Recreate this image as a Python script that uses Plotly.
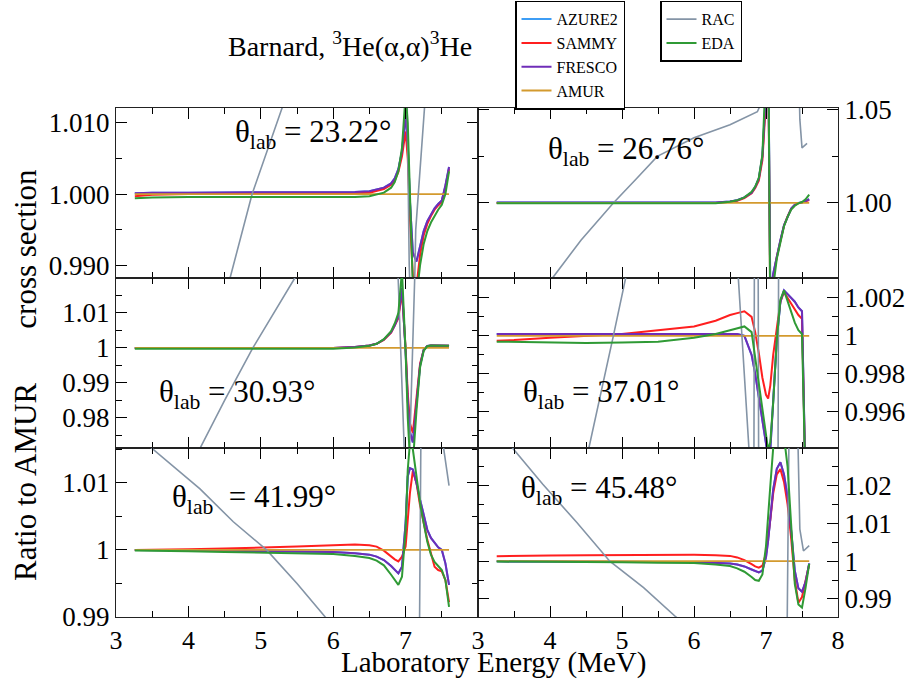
import plotly.graph_objects as go

# ---------------- data ----------------
ENERGY = [3.26, 3.5, 4.0, 4.5, 5.0, 5.5, 6.0, 6.3, 6.5, 6.6, 6.7, 6.8, 6.85, 6.9, 6.95,
          7.0, 7.03, 7.06, 7.1, 7.15, 7.2, 7.25, 7.3, 7.35, 7.4, 7.45, 7.5, 7.55, 7.6]

AMUR_RATIO = [1.0, 1.0, 1.0, 1.0, 1.0, 1.0, 1.0, 1.0, 1.0, 1.0, 1.0, 1.0, 1.0, 1.0, 1.0,
              1.0, 1.0, 1.0, 1.0, 1.0, 1.0, 1.0, 1.0, 1.0, 1.0, 1.0, 1.0, 1.0, 1.0]

ANGLES = ["23.22", "26.76", "30.93", "37.01", "41.99", "45.48"]

# theta = 23.22
P1_SAMMY = [0.9997, 0.9999, 1.0000, 1.0000, 1.0000, 1.0000, 1.0000, 1.0001, 1.0002, 1.0004, 1.0007, 1.0013, 1.0019, 1.0031, 1.0053,
            1.0088, 1.0050, 0.9965, 0.9885, 0.9870, 0.9915, 0.9942, 0.9958, 0.9969, 0.9978, 0.9984, 0.9989, 1.0010, 1.0035]
P1_FRESCO = [1.0001, 1.0002, 1.0002, 1.0002, 1.0002, 1.0002, 1.0002, 1.0003, 1.0004, 1.0006, 1.0009, 1.0015, 1.0022, 1.0035, 1.0060,
             1.0111, 1.0070, 0.9990, 0.9918, 0.9905, 0.9928, 0.9948, 0.9962, 0.9972, 0.9980, 0.9986, 0.9991, 1.0012, 1.0038]
P1_EDA = [0.9994, 0.9995, 0.9996, 0.9996, 0.9995, 0.9995, 0.9995, 0.9996, 0.9997, 0.9999, 1.0002, 1.0009, 1.0017, 1.0032, 1.0065,
          1.0140, 1.0100, 1.0000, 0.9870, 0.9855, 0.9900, 0.9930, 0.9948, 0.9960, 0.9970, 0.9978, 0.9985, 1.0000, 1.0032]
P1_RAC_E = [3.26, 4.0, 4.57, 4.88, 5.29, 5.8, 6.5, 7.0, 7.05, 7.08, 7.11, 7.14, 7.6]
P1_RAC = [0.945, 0.972, 0.988, 1.000, 1.012, 1.025, 1.040, 1.030, 0.990, 0.980, 0.980, 0.995, 1.060]

# theta = 26.76
P2_SAMMY = [1.0000, 1.0000, 1.0000, 1.0000, 1.0000, 1.0000, 1.0000, 1.0000, 1.0006, 1.0012, 1.0026, 1.0052, 1.0080, 1.0120, 1.0230,
            1.0550, 1.0850, 0.9400, 0.9600, 0.9710, 0.9795, 0.9878, 0.9928, 0.9968, 0.9989, 0.9999, 1.0002, 1.0008, 1.0015]
P2_FRESCO = [1.0002, 1.0002, 1.0002, 1.0002, 1.0002, 1.0002, 1.0002, 1.0002, 1.0008, 1.0015, 1.0030, 1.0055, 1.0085, 1.0130, 1.0250,
             1.0600, 1.0900, 0.9500, 0.9620, 0.9720, 0.9800, 0.9880, 0.9930, 0.9970, 0.9990, 1.0000, 1.0002, 1.0010, 1.0020]
P2_EDA = [0.9999, 0.9999, 0.9999, 0.9999, 0.9999, 0.9999, 0.9999, 0.9999, 1.0007, 1.0014, 1.0030, 1.0060, 1.0088, 1.0135, 1.0260,
          1.0700, 1.1000, 0.9300, 0.9550, 0.9700, 0.9795, 0.9875, 0.9925, 0.9965, 0.9985, 0.9998, 1.0005, 1.0020, 1.0045]
P2_RAC_E = [3.26, 4.04, 4.43, 4.88, 5.2, 5.49, 6.0, 6.5, 6.88, 6.95, 7.0, 7.44, 7.47, 7.5, 7.57]
P2_RAC = [0.900, 0.960, 0.980, 1.000, 1.013, 1.025, 1.035, 1.042, 1.049, 1.055, 1.100, 1.100, 1.045, 1.0296, 1.032]

# theta = 30.93
P3_SAMMY = [1.0000, 1.0000, 1.0000, 1.0000, 1.0000, 1.0000, 1.0000, 1.0003, 1.0007, 1.0012, 1.0023, 1.0044, 1.0063, 1.0085, 1.0160,
            1.0000, 0.9870, 0.9785, 0.9757, 0.9855, 0.9955, 0.9994, 1.0005, 1.0007, 1.0007, 1.0007, 1.0007, 1.0006, 1.0006]
P3_FRESCO = [1.0000, 1.0000, 1.0000, 1.0000, 1.0000, 1.0000, 1.0000, 1.0003, 1.0007, 1.0012, 1.0024, 1.0045, 1.0065, 1.0090, 1.0172,
             0.9990, 0.9850, 0.9760, 0.9730, 0.9840, 0.9950, 0.9995, 1.0006, 1.0007, 1.0007, 1.0007, 1.0007, 1.0006, 1.0006]
P3_EDA = [0.9998, 0.9998, 0.9998, 0.9998, 0.9998, 0.9998, 0.9998, 1.0001, 1.0006, 1.0012, 1.0025, 1.0048, 1.0070, 1.0100, 1.0220,
          0.9990, 0.9800, 0.9680, 0.9670, 0.9820, 0.9945, 0.9992, 1.0005, 1.0007, 1.0007, 1.0007, 1.0007, 1.0006, 1.0006]
P3_RAC_E = [3.26, 4.16, 4.5, 4.89, 5.2, 5.47, 6.0, 6.88, 7.0, 7.04, 7.14, 7.6]
P3_RAC = [0.935, 0.9714, 0.985, 1.000, 1.0105, 1.020, 1.035, 1.030, 0.960, 0.960, 1.030, 1.050]

# theta = 37.01
P4_SAMMY = [0.99975, 0.99978, 0.9999, 1.0000, 1.0001, 1.0003, 1.0005, 1.0008, 1.0011, 1.0012, 1.0013, 1.0010, 1.0002, 0.9991, 0.9978,
            0.9969, 0.9967, 0.9974, 0.9990, 1.0004, 1.0018, 1.0023, 1.0020, 1.0017, 1.0014, 1.0011, 1.0009, 0.9920, 0.9900]
P4_FRESCO = [1.0001, 1.0001, 1.0001, 1.0001, 1.0001, 1.0001, 1.0001, 1.0001, 1.0001, 1.0001, 1.0000, 0.9990, 0.9980, 0.9968, 0.9957,
             0.9946, 0.9936, 0.9940, 0.9965, 0.9998, 1.0018, 1.0024, 1.0022, 1.0020, 1.0018, 1.0015, 1.0013, 0.9920, 0.9900]
P4_EDA = [0.9997, 0.99968, 0.99965, 0.99963, 0.99965, 0.9997, 0.9999, 1.0001, 1.0003, 1.0004, 1.0005, 1.0002, 0.9988, 0.9975, 0.9960,
          0.9946, 0.9940, 0.9944, 0.9965, 0.9998, 1.0019, 1.0024, 1.0018, 1.0012, 1.0007, 1.0003, 1.0001, 0.9920, 0.9900]
P4_RAC_E = [3.26, 4.54, 4.88, 5.02, 5.5, 6.0, 6.6, 6.8, 6.83, 6.84, 6.89, 6.9, 7.0, 7.16, 7.18, 7.6]
P4_RAC = [0.970, 0.9941, 1.000, 1.003, 1.012, 1.020, 1.004, 0.992, 0.990, 1.006, 1.006, 0.990, 0.980, 0.985, 1.010, 1.050]

# theta = 41.99
P5_SAMMY = [1.0000, 1.0000, 1.0001, 1.0002, 1.0003, 1.0005, 1.0007, 1.0008, 1.0007, 1.0005, 0.9999, 0.9990, 0.9986, 0.9983, 0.9990,
            1.0005, 1.0040, 1.0085, 1.0118, 1.0100, 1.0066, 1.0040, 1.0015, 0.9995, 0.9975, 0.9970, 0.9968, 0.9955, 0.9922]
P5_FRESCO = [1.0000, 1.0000, 0.9999, 0.9999, 0.9998, 0.9998, 0.9997, 0.9995, 0.9993, 0.9990, 0.9985, 0.9976, 0.9970, 0.9965, 0.9975,
             1.0040, 1.0110, 1.0122, 1.0120, 1.0100, 1.0075, 1.0052, 1.0030, 1.0018, 1.0010, 1.0004, 1.0000, 0.9980, 0.9948]
P5_EDA = [0.9999, 0.9999, 0.9998, 0.9997, 0.9996, 0.9995, 0.9994, 0.9991, 0.9988, 0.9984, 0.9977, 0.9963, 0.9955, 0.9948, 0.9960,
          1.0030, 1.0120, 1.0160, 1.0150, 1.0110, 1.0070, 1.0040, 1.0012, 0.9993, 0.9982, 0.9976, 0.9970, 0.9955, 0.9915]
P5_RAC_E = [3.26, 3.49, 4.16, 4.62, 5.08, 5.5, 5.89, 6.3, 7.18, 7.22, 7.46, 7.6]
P5_RAC = [1.018, 1.0152, 1.0091, 1.0042, 1.000, 0.995, 0.990, 0.985, 0.970, 1.030, 1.020, 1.0096]

# theta = 45.48
P6_SAMMY = [1.0013, 1.0014, 1.0015, 1.0016, 1.0017, 1.0017, 1.0017, 1.0016, 1.0014, 1.0010, 1.0003, 0.9992, 0.9986, 0.9983, 0.9988,
            1.0020, 1.0060, 1.0110, 1.0180, 1.0230, 1.0244, 1.0210, 1.0150, 1.0060, 0.9950, 0.9890, 0.9905, 0.9950, 0.9992]
P6_FRESCO = [1.0000, 0.9999, 0.9999, 0.9998, 0.9998, 0.9998, 0.9998, 0.9996, 0.9994, 0.9991, 0.9986, 0.9978, 0.9973, 0.9970, 0.9975,
             1.0010, 1.0055, 1.0110, 1.0190, 1.0245, 1.0262, 1.0230, 1.0170, 1.0080, 0.9975, 0.9928, 0.9919, 0.9945, 0.9994]
P6_EDA = [0.9999, 0.9999, 0.9998, 0.9998, 0.9997, 0.9996, 0.9995, 0.9991, 0.9987, 0.9981, 0.9972, 0.9958, 0.9950, 0.9948, 0.9965,
          1.0040, 1.0110, 1.0200, 1.0300, 1.0350, 1.0360, 1.0330, 1.0250, 1.0080, 0.9940, 0.9885, 0.9877, 0.9930, 0.9993]
P6_RAC_E = [3.26, 3.48, 3.9, 4.37, 4.83, 5.3, 5.75, 6.1, 7.29, 7.32, 7.44, 7.47, 7.52, 7.6]
P6_RAC = [1.035, 1.030, 1.0204, 1.0103, 1.000, 0.993, 0.9852, 0.980, 0.975, 1.035, 1.035, 1.0085, 1.0027, 1.0041]

# AZURE2 coincides with FRESCO in every panel
P1_AZURE2 = list(P1_FRESCO)
P2_AZURE2 = list(P2_FRESCO)
P3_AZURE2 = list(P3_FRESCO)
P4_AZURE2 = list(P4_FRESCO)
P5_AZURE2 = list(P5_FRESCO)
P6_AZURE2 = list(P6_FRESCO)

PANELS = [
    (P1_AZURE2, P1_SAMMY, P1_FRESCO, P1_EDA, P1_RAC_E, P1_RAC),
    (P2_AZURE2, P2_SAMMY, P2_FRESCO, P2_EDA, P2_RAC_E, P2_RAC),
    (P3_AZURE2, P3_SAMMY, P3_FRESCO, P3_EDA, P3_RAC_E, P3_RAC),
    (P4_AZURE2, P4_SAMMY, P4_FRESCO, P4_EDA, P4_RAC_E, P4_RAC),
    (P5_AZURE2, P5_SAMMY, P5_FRESCO, P5_EDA, P5_RAC_E, P5_RAC),
    (P6_AZURE2, P6_SAMMY, P6_FRESCO, P6_EDA, P6_RAC_E, P6_RAC),
]

# axis settings per panel
Y_RANGES = [(0.9882, 1.0121), (0.9597, 1.051), (0.9714, 1.0200),
            (0.9941, 1.00305), (0.9900, 1.0152), (0.9852, 1.0300)]
Y_TICKVALS = [[0.99, 1.0, 1.01], [1.0, 1.05], [0.98, 0.99, 1.0, 1.01],
              [0.996, 0.998, 1.0, 1.002], [0.99, 1.0, 1.01], [0.99, 1.0, 1.01, 1.02]]
Y_TICKTEXT = [["0.990", "1.000", "1.010"], ["1.00", "1.05"], ["0.98", "0.99", "1", "1.01"],
              ["0.996", "0.998", "1", "1.002"], ["0.99", "1", "1.01"], ["0.99", "1", "1.01", "1.02"]]
Y_MINOR = [0.005, 0.025, 0.005, 0.001, 0.005, 0.005]

# ---------------- styles ----------------
C_AZURE = "#3d9df5"
C_SAMMY = "#ff1f1f"
C_FRESCO = "#6f2db8"
C_AMUR = "#d39a2e"
C_RAC = "#8494a6"
C_EDA = "#2f9a35"
FONT = "'Liberation Serif', 'Times New Roman', 'DejaVu Serif', serif"

W, H = 919, 686
X_DOM = [(116 / W, 478 / W), (478 / W, 838 / W)]
Y_DOM = [(1 - 278 / H, 1 - 108 / H), (1 - 448 / H, 1 - 278 / H), (1 - 617 / H, 1 - 448 / H)]

fig = go.Figure()
layout = {}
for i, (az, sa, fr, ed, rac_e, rac) in enumerate(PANELS):
    n = i + 1
    xa = "x" if n == 1 else f"x{n}"
    ya = "y" if n == 1 else f"y{n}"
    first = (n == 1)
    series = [
        ("AZURE2", ENERGY, az, C_AZURE, 2.0, "legend"),
        ("SAMMY", ENERGY, sa, C_SAMMY, 2.0, "legend"),
        ("FRESCO", ENERGY, fr, C_FRESCO, 2.0, "legend"),
        ("AMUR", ENERGY, AMUR_RATIO, C_AMUR, 1.8, "legend"),
        ("RAC", rac_e, rac, C_RAC, 1.6, "legend2"),
        ("EDA", ENERGY, ed, C_EDA, 2.0, "legend2"),
    ]
    for name, xs, ys, col, lw, leg in series:
        fig.add_trace(go.Scatter(x=xs, y=ys, mode="lines", name=name,
                                 line=dict(color=col, width=lw),
                                 xaxis=xa, yaxis=ya, showlegend=first, legend=leg))
    r, c = i // 2, i % 2
    xkey = "xaxis" if n == 1 else f"xaxis{n}"
    ykey = "yaxis" if n == 1 else f"yaxis{n}"
    xticks = [3, 4, 5, 6, 7] if c == 0 else [3, 4, 5, 6, 7, 8]
    layout[xkey] = dict(
        domain=list(X_DOM[c]), anchor=ya, range=[3, 8],
        tickmode="array", tickvals=xticks, ticktext=[str(v) for v in xticks],
        showticklabels=(r == 2), ticks="inside", ticklen=11, tickwidth=1.4,
        tickcolor="black", showline=True, linecolor="#222222", linewidth=1.4,
        mirror="allticks", showgrid=False, zeroline=False, automargin=False,
        tickfont=dict(family=FONT, size=26, color="black"),
        minor=dict(ticks="inside", ticklen=6, tickwidth=1.4, tickcolor="black",
                   tickmode="linear", tick0=3, dtick=0.5),
    )
    layout[ykey] = dict(
        domain=list(Y_DOM[r]), anchor=xa, range=list(Y_RANGES[i]),
        side="left" if c == 0 else "right",
        tickmode="array", tickvals=Y_TICKVALS[i], ticktext=Y_TICKTEXT[i],
        ticks="inside", ticklen=11, tickwidth=1.4, tickcolor="black",
        showline=True, linecolor="#222222", linewidth=1.4, mirror="allticks",
        showgrid=False, zeroline=False, automargin=False,
        tickfont=dict(family=FONT, size=27, color="black"),
        minor=dict(ticks="inside", ticklen=6, tickwidth=1.4, tickcolor="black",
                   tickmode="linear", tick0=1.0, dtick=Y_MINOR[i]),
    )

# angle labels (position in each panel's domain fraction)
LABEL_POS = [(0.323, 0.845), (0.188, 0.745), (0.113, 0.315), (0.119, 0.315), (0.149, 0.70), (0.114, 0.75)]
annotations = []
for i, ang in enumerate(ANGLES):
    n = i + 1
    xa = "x" if n == 1 else f"x{n}"
    ya = "y" if n == 1 else f"y{n}"
    gap = "\u00a0\u00a0" if i == 4 else " "
    annotations.append(dict(
        text=f"θ<sub>lab</sub>{gap}= {ang}°", xref=f"{xa} domain", yref=f"{ya} domain",
        x=LABEL_POS[i][0], y=LABEL_POS[i][1], xanchor="left", yanchor="middle",
        showarrow=False, font=dict(family=FONT, size=31, color="black")))

annotations.append(dict(text="Barnard, <sup>3</sup>He(α,α)<sup>3</sup>He",
                        xref="paper", yref="paper", x=350 / W, y=1 - 45 / H,
                        xanchor="center", yanchor="middle", showarrow=False,
                        font=dict(family=FONT, size=28, color="black")))
annotations.append(dict(text="Laboratory Energy (MeV)", xref="paper", yref="paper",
                        x=493 / W, y=1 - 662 / H, xanchor="center", yanchor="middle",
                        showarrow=False, font=dict(family=FONT, size=29, color="black")))
annotations.append(dict(text="Ratio to AMUR" + "\u00a0" * 7 + "cross section", xref="paper", yref="paper",
                        x=25 / W, y=1 - 375 / H, xanchor="center", yanchor="middle",
                        textangle=-90, showarrow=False,
                        font=dict(family=FONT, size=31, color="black")))

fig.update_layout(
    width=W, height=H, margin=dict(l=0, r=0, t=0, b=0, pad=0, autoexpand=False),
    paper_bgcolor="white", plot_bgcolor="white",
    annotations=annotations,
    legend=dict(x=515 / W, y=0.999, xanchor="left", yanchor="top",
                bordercolor="black", borderwidth=1.5, bgcolor="white",
                font=dict(family=FONT, size=16, color="black"),
                itemwidth=30, tracegroupgap=0),
    legend2=dict(x=660 / W, y=0.999, xanchor="left", yanchor="top",
                 bordercolor="black", borderwidth=1.5, bgcolor="white",
                 font=dict(family=FONT, size=16, color="black"),
                 itemwidth=30, tracegroupgap=0),
    **layout,
)

fig.write_html(
    "out.html",
    post_script=("document.documentElement.style.margin='0';"
                 "document.body.style.margin='0';"
                 "document.body.style.overflow='hidden';"
                 "document.documentElement.style.overflow='hidden';"),
)
